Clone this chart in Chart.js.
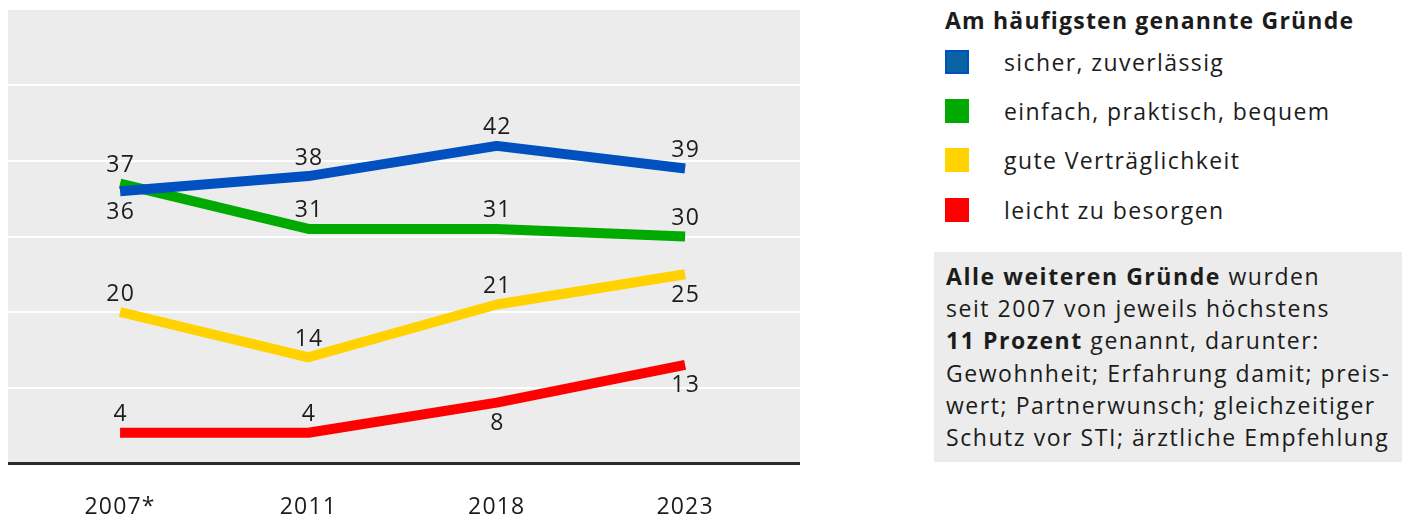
<!DOCTYPE html>
<html lang="de">
<head>
<meta charset="utf-8">
<title>Am häufigsten genannte Gründe</title>
<script src="https://cdn.jsdelivr.net/npm/chart.js@4"></script>
<style>
  html, body { margin: 0; padding: 0; background: #fff; }
  body { width: 1407px; height: 515px; position: relative; font-family: "Open Sans", sans-serif; color: #1c1c1c; overflow: hidden; }
  #chartBox { position: absolute; left: 0; top: 0; width: 820px; height: 515px; }
  #legend { position: absolute; left: 945px; top: 3px; }
  #legend h3 { margin: 0; font-size: 23px; font-weight: 700; line-height: 34px; letter-spacing: 1.2px; }
  .row { display: flex; align-items: center; height: 49.3px; font-size: 23px; letter-spacing: 1.4px; }
  .swatch { width: 24px; height: 24px; margin-right: 35px; box-sizing: border-box; flex: none; }
  #note { position: absolute; left: 934px; top: 252px; width: 468px; height: 210px; background: #ebeceb;
          box-sizing: border-box; padding: 8px 0 0 12px; font-size: 23px; line-height: 32.2px; white-space: nowrap;
          letter-spacing: 1.55px; }
</style>
</head>
<body>
<div id="chartBox"><canvas id="chart"></canvas></div>
<div id="legend"></div>
<div id="note">
  <b>Alle weiteren Gründe</b> wurden<br>
  seit 2007 von jeweils höchstens<br>
  <b>11 Prozent</b> genannt, darunter:<br>
  Gewohnheit; Erfahrung damit; preis-<br>
  wert; Partnerwunsch; gleichzeitiger<br>
  Schutz vor STI; ärztliche Empfehlung
</div>
<script>
// Daten
const years = ['2007*', '2011', '2018', '2023'];
const seriesNames = ['sicher, zuverlässig', 'einfach, praktisch, bequem', 'gute Verträglichkeit', 'leicht zu besorgen'];
const sicher = [36, 38, 42, 39];
const einfach = [37, 31, 31, 30];
const vertraeglich = [20, 14, 21, 25];
const besorgen = [4, 4, 8, 13];

// Farben und Position der Beschriftung (1 = oben, -1 = unten)
const colors = ['#0050c0', '#00aa00', '#ffd200', '#ff0000'];
const legendColors = ['#0a64a4', '#00aa00', '#ffd200', '#ff0000'];
const labelSide = [
  [-1, 1, 1, 1],
  [1, 1, 1, 1],
  [1, 1, 1, -1],
  [1, 1, -1, -1],
];

const allSeries = [sicher, einfach, vertraeglich, besorgen];
const fontFamily = '"Open Sans", sans-serif';

// Legende
const legend = document.getElementById('legend');
const title = document.createElement('h3');
title.textContent = 'Am häufigsten genannte Gründe';
legend.appendChild(title);
seriesNames.forEach((name, i) => {
  const row = document.createElement('div');
  row.className = 'row';
  const sw = document.createElement('div');
  sw.className = 'swatch';
  sw.style.background = legendColors[i];
  if (i === 0) sw.style.border = '2px solid #0050c0';
  row.appendChild(sw);
  const txt = document.createElement('span');
  txt.textContent = name;
  row.appendChild(txt);
  legend.appendChild(row);
});

// Hintergrund des Diagrammbereichs
const bgPlugin = {
  id: 'bg',
  beforeDraw(chart) {
    const { ctx, chartArea } = chart;
    ctx.letterSpacing = '1.2px'; // Schrift etwas breiter, gilt für die Achsenbeschriftung
    ctx.save();
    ctx.fillStyle = '#ebeceb';
    ctx.fillRect(chartArea.left, chartArea.top, chartArea.right - chartArea.left, chartArea.bottom - chartArea.top);
    ctx.restore();
  },
};

// Werte an die Linien schreiben
const valuePlugin = {
  id: 'values',
  afterDatasetsDraw(chart) {
    const { ctx } = chart;
    ctx.save();
    ctx.font = '23px ' + fontFamily;
    ctx.letterSpacing = '1.2px';
    ctx.fillStyle = '#1c1c1c';
    ctx.textAlign = 'center';
    ctx.textBaseline = 'middle';
    chart.data.datasets.forEach((ds, di) => {
      chart.getDatasetMeta(di).data.forEach((pt, i) => {
        const side = labelSide[di][i];
        const dy = side > 0 ? -18 : 21;
        ctx.fillText(String(ds.data[i].y), pt.x + 0.6, pt.y + dy);
      });
    });
    ctx.restore();
  },
};

new Chart(document.getElementById('chart'), {
  type: 'line',
  data: {
    datasets: allSeries.map((vals, i) => ({
      label: seriesNames[i],
      data: vals.map((v, j) => ({ x: j, y: v })),
      borderColor: colors[i],
      borderWidth: 10,
      borderJoinStyle: 'round',
      borderCapStyle: 'butt',
      pointRadius: 0,
      tension: 0,
      fill: false,
    })),
  },
  options: {
    responsive: true,
    maintainAspectRatio: false,
    animation: false,
    layout: { padding: { left: 8, right: 20, top: 10, bottom: 0 } },
    plugins: { legend: { display: false }, tooltip: { enabled: false } },
    scales: {
      x: {
        type: 'linear',
        min: -0.595,
        max: 3.61,
        afterBuildTicks(scale) {
          scale.ticks = years.map((_, i) => ({ value: i }));
        },
        afterFit(scale) { scale.height = 52; },
        grid: { display: false, drawTicks: false },
        border: { display: false },
        ticks: {
          padding: 31,
          color: '#1c1c1c',
          font: { family: fontFamily, size: 23 },
          callback: (value) => years[value] ?? '',
          maxRotation: 0,
        },
      },
      y: {
        min: 0,
        max: 60,
        afterFit(scale) { scale.width = 0; },
        ticks: { display: false, stepSize: 10 },
        border: { display: false },
        grid: {
          drawTicks: false,
          color: (c) => (c.tick.value === 0 ? '#2a2a2a' : c.tick.value === 60 ? 'rgba(0,0,0,0)' : '#ffffff'),
          lineWidth: (c) => (c.tick.value === 0 ? 3 : 2),
        },
      },
    },
  },
  plugins: [bgPlugin, valuePlugin],
});
</script>
</body>
</html>
